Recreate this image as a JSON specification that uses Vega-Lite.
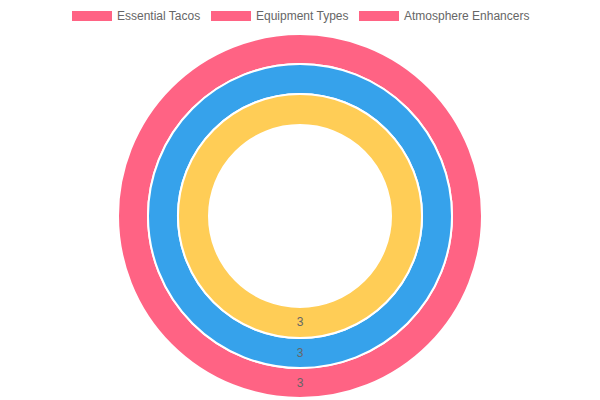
{
  "$schema": "https://vega.github.io/schema/vega-lite/v6.json",
  "description": "Three nested doughnut rings, one slice each.",
  "width": 600,
  "height": 368,
  "autosize": "none",
  "padding": {"top": 32, "left": 0, "right": 0, "bottom": 0},
  "background": "white",
  "config": {"view": {"stroke": null}},
  "data": {
    "values": [
      {"dataset": "Essential Tacos", "value": 3},
      {"dataset": "Equipment Types", "value": 3},
      {"dataset": "Atmosphere Enhancers", "value": 3}
    ]
  },
  "encoding": {
    "theta": {"field": "value", "type": "quantitative", "stack": true}
  },
  "layer": [
    {
      "encoding": {
        "fill": {
          "field": "dataset",
          "type": "nominal",
          "scale": {
            "domain": ["Atmosphere Enhancers", "Equipment Types", "Essential Tacos"],
            "range": ["#ffcd56", "#36a2eb", "#ff6384"]
          },
          "legend": null
        },
        "stroke": {
          "field": "dataset",
          "type": "nominal",
          "scale": {
            "domain": ["Essential Tacos", "Equipment Types", "Atmosphere Enhancers"],
            "range": ["#ffffff", "#ffffff", "#ffffff"]
          },
          "legend": {
            "title": null,
            "orient": "none",
            "legendX": 82,
            "legendY": -26,
            "direction": "horizontal",
            "padding": 0,
            "symbolType": "M-2,-0.5L2,-0.5L2,0.5L-2,0.5Z",
            "symbolSize": 400,
            "symbolStrokeWidth": 0,
            "symbolFillColor": "#ff6384",
            "symbolOpacity": 1,
            "labelFont": "Liberation Sans",
            "labelFontSize": 12,
            "labelColor": "#666666",
            "labelOffset": 15,
            "columnPadding": 10
          }
        }
      },
      "layer": [
        {
          "transform": [{"filter": "datum.dataset == 'Essential Tacos'"}],
          "mark": {"type": "arc", "radius": 182, "radius2": 152, "strokeWidth": 2}
        },
        {
          "transform": [{"filter": "datum.dataset == 'Equipment Types'"}],
          "mark": {"type": "arc", "radius": 152, "radius2": 122, "strokeWidth": 2}
        },
        {
          "transform": [{"filter": "datum.dataset == 'Atmosphere Enhancers'"}],
          "mark": {"type": "arc", "radius": 122, "radius2": 91, "strokeWidth": 2}
        }
      ]
    },
    {
      "transform": [{"filter": "datum.dataset == 'Essential Tacos'"}],
      "mark": {"type": "text", "radius": 167, "font": "Liberation Sans", "fontSize": 12, "color": "#666666"},
      "encoding": {"text": {"field": "value", "type": "quantitative"}}
    },
    {
      "transform": [{"filter": "datum.dataset == 'Equipment Types'"}],
      "mark": {"type": "text", "radius": 137, "font": "Liberation Sans", "fontSize": 12, "color": "#666666"},
      "encoding": {"text": {"field": "value", "type": "quantitative"}}
    },
    {
      "transform": [{"filter": "datum.dataset == 'Atmosphere Enhancers'"}],
      "mark": {"type": "text", "radius": 106, "font": "Liberation Sans", "fontSize": 12, "color": "#666666"},
      "encoding": {"text": {"field": "value", "type": "quantitative"}}
    }
  ]
}
